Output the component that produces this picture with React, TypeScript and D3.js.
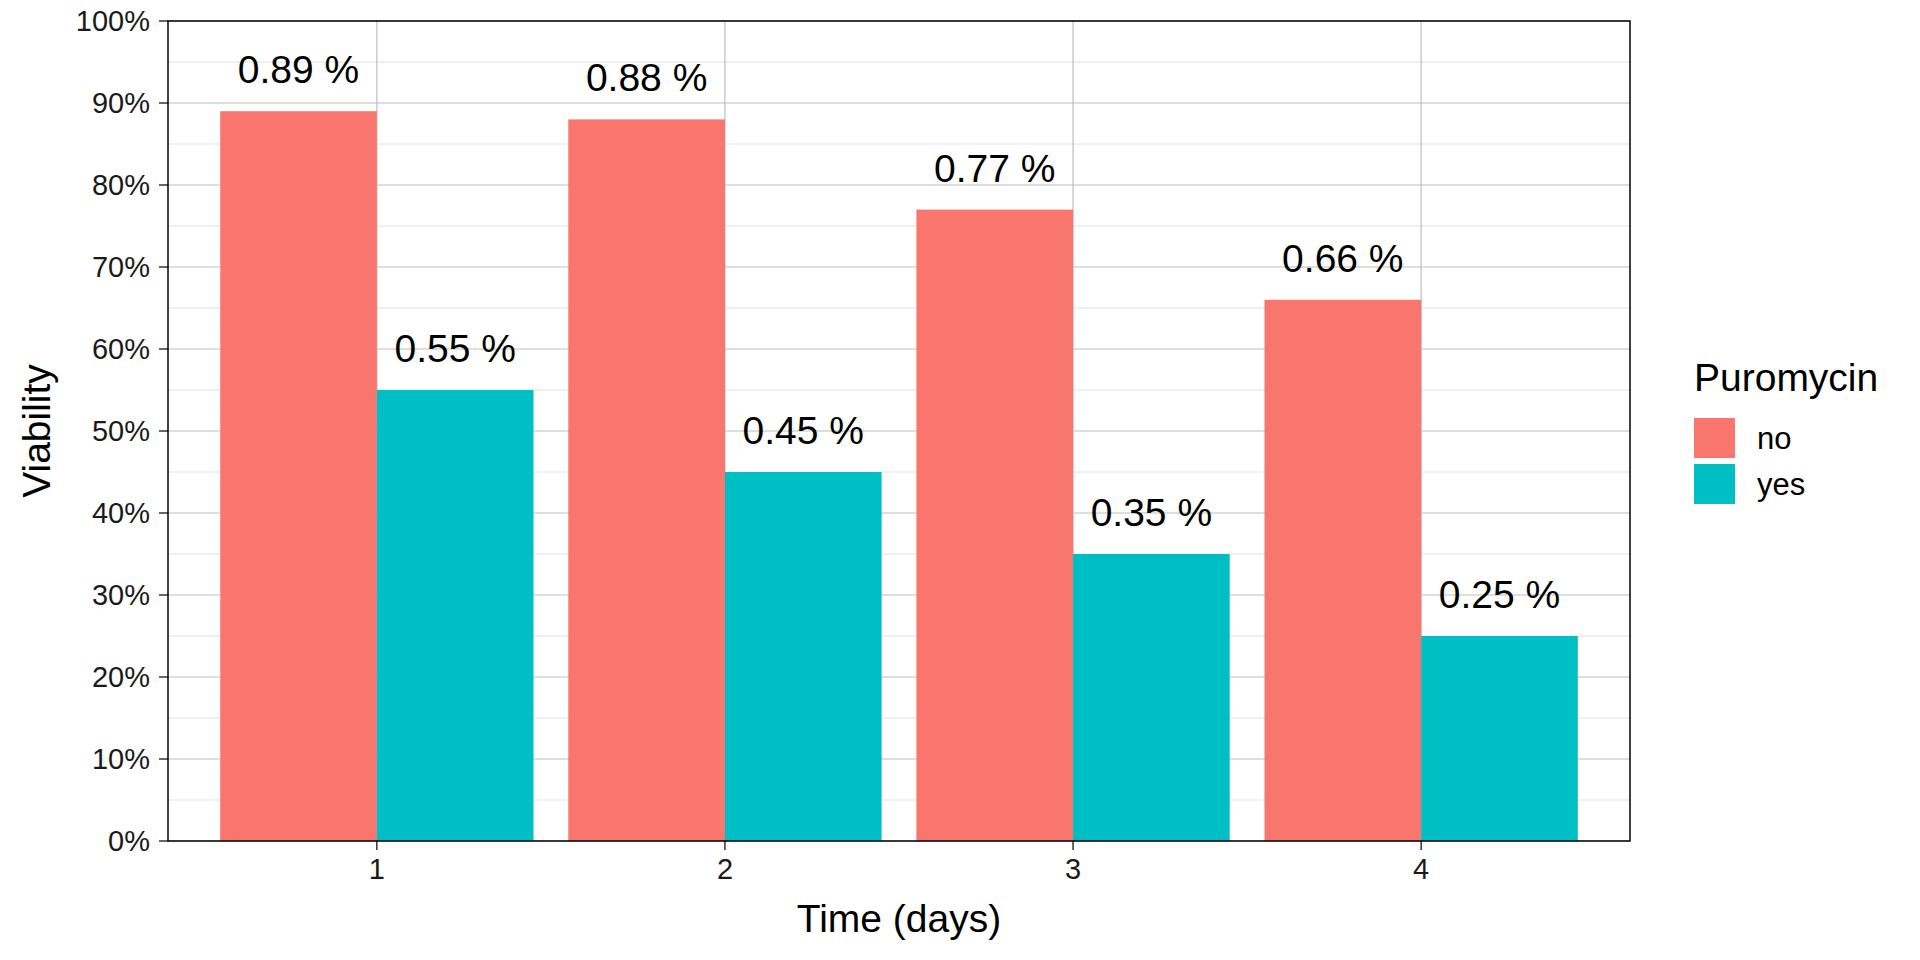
import React from "react";
import * as d3 from "d3";

const days = ["1", "2", "3", "4"];
const groups = ["no", "yes"];
const noValues = [0.89, 0.88, 0.77, 0.66];
const yesValues = [0.55, 0.45, 0.35, 0.25];
const colors = ["#F8766D", "#00BFC4"];
const yTicks = [0, 0.1, 0.2, 0.3, 0.4, 0.5, 0.6, 0.7, 0.8, 0.9, 1.0];

export default function App() {
  const W = 1920, H = 960;
  const L = 168, R = 1630, T = 21, B = 841;
  const xl = d3.scaleLinear().domain([0.4, 4.6]).range([L, R]);
  const step = xl(2) - xl(1);
  const bw = step * 0.9 / 2;
  const cx = (i: number) => xl(i + 1);
  const y = d3.scaleLinear().domain([0, 1]).range([B, T]);
  const minor = d3.range(0.05, 1, 0.1);
  const series = [noValues, yesValues];
  const font = "Liberation Sans, Arial, sans-serif";
  return (
    <svg width={W} height={H} style={{ position: "absolute", left: 0, top: 0, background: "#fff" }} fontFamily={font}>
      {minor.map((v) => <line key={"m" + v} x1={L} x2={R} y1={y(v)} y2={y(v)} stroke="#e0e0e0" strokeWidth={1} />)}
      {yTicks.map((v) => <line key={"g" + v} x1={L} x2={R} y1={y(v)} y2={y(v)} stroke="#bdbdbd" strokeWidth={1.2} />)}
      {days.map((d, i) => <line key={"v" + d} x1={cx(i)} x2={cx(i)} y1={T} y2={B} stroke="#bdbdbd" strokeWidth={1.2} />)}
      {series.map((vals, gi) => days.map((d, i) => {
        const x0 = cx(i) - bw + gi * bw;
        return (
          <g key={gi + "-" + d}>
            <rect x={x0} y={y(vals[i])} width={bw} height={B - y(vals[i])} fill={colors[gi]} />
            <text x={x0 + bw / 2} y={y(vals[i]) - 28} textAnchor="middle" fontSize={39} fill="#000">{vals[i].toFixed(2) + " %"}</text>
          </g>
        );
      }))}
      <rect x={L} y={T} width={R - L} height={B - T} fill="none" stroke="#000" strokeWidth={1.5} />
      {yTicks.map((v) => (
        <g key={"t" + v}>
          <line x1={L - 9} x2={L} y1={y(v)} y2={y(v)} stroke="#000" strokeWidth={1.2} />
          <text x={L - 18} y={y(v)} dy="0.35em" textAnchor="end" fontSize={29} fill="#1a1a1a">{Math.round(v * 100) + "%"}</text>
        </g>
      ))}
      {days.map((d, i) => (
        <g key={"xt" + d}>
          <line x1={cx(i)} x2={cx(i)} y1={B} y2={B + 9} stroke="#000" strokeWidth={1.2} />
          <text x={cx(i)} y={B + 38} textAnchor="middle" fontSize={29} fill="#1a1a1a">{d}</text>
        </g>
      ))}
      <text x={(L + R) / 2} y={932} textAnchor="middle" fontSize={39} fill="#000">Time (days)</text>
      <text transform={`translate(50,${(T + B) / 2}) rotate(-90)`} textAnchor="middle" fontSize={39} fill="#000">Viability</text>
      <text x={1694} y={391} fontSize={39} fill="#000">Puromycin</text>
      {groups.map((g, i) => (
        <g key={"lg" + g}>
          <rect x={1694} y={418 + i * 46} width={41} height={40} fill={colors[i]} />
          <text x={1757} y={438 + i * 46} dy="0.35em" fontSize={31} fill="#000">{g}</text>
        </g>
      ))}
    </svg>
  );
}
